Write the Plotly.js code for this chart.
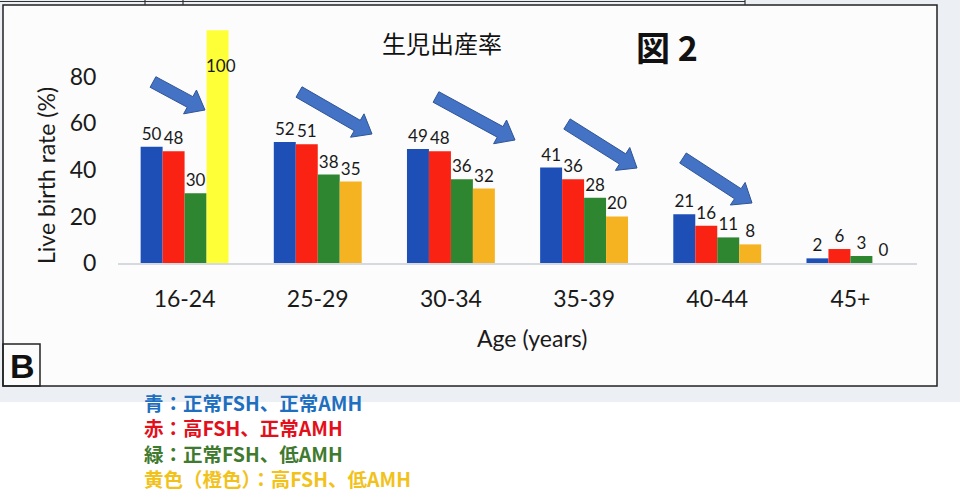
<!DOCTYPE html>
<html>
<head>
<meta charset="utf-8">
<script src="https://cdn.plot.ly/plotly-3.0.1.min.js"></script>
<style>
  html, body { margin: 0; padding: 0; background: #fff; }
  #chart { width: 960px; height: 500px; }
</style>
</head>
<body>
<div id="chart"></div>
<script>
// chart values
const ageGroups = ['16-24', '25-29', '30-34', '35-39', '40-44', '45+'];
const normFshNormAmh = [50, 52, 49, 41, 21, 2];   // blue
const highFshNormAmh = [48, 51, 48, 36, 16, 6];   // red
const normFshLowAmh  = [30, 38, 36, 28, 11, 3];   // green
const highFshLowAmh  = [100, 35, 32, 20, 8, 0];   // yellow / orange

const legendLines = [
  '青：正常FSH、正常AMH',
  '赤：高FSH、正常AMH',
  '緑：正常FSH、低AMH',
  '黄色（橙色）：高FSH、低AMH'
];
const legendColors = ['#1f6fc0', '#e3101c', '#3f7a2f', '#f2c21c'];

// plot box in page pixels
const L = 118, R = 917, T = 7, B = 263;
const px = (x) => (x - L) / (R - L);
const py = (y) => (B - y) / (B - T);

const numFont = { family: 'Lato, "Noto Sans", sans-serif', size: 17, color: '#1a1a1a' };

function barTrace(vals, color, name) {
  return {
    type: 'bar',
    x: ageGroups,
    y: vals,
    name: name,
    marker: { color: color },
    text: vals.map(String),
    textposition: 'outside',
    textfont: numFont,
    cliponaxis: false,
    hoverinfo: 'x+y'
  };
}

const tBlue = barTrace(normFshNormAmh, '#1d4fb7', 'blue');
const tRed = barTrace(highFshNormAmh, '#fa2212', 'red');
const tGreen = barTrace(normFshLowAmh, '#2f8630', 'green');
const tOrange = barTrace(highFshLowAmh,
  highFshLowAmh.map((v, i) => i === 0 ? '#ffff38' : '#f6b321'), 'orange');
// the 100 label sits lower, over the tall yellow bar
tOrange.textposition = highFshLowAmh.map((v, i) => i === 0 ? 'none' : 'outside');

// thick blue arrows between groups (tail, tip in page pixels)
const arrows = [
  [[153, 82], [205, 110]],
  [[299, 92], [372, 134]],
  [[436, 97], [515, 140]],
  [[567, 124], [637, 168]],
  [[683, 158], [752, 203]]
];
function arrowPath(a) {
  const [x0, y0] = a[0], [x1, y1] = a[1];
  const dx = x1 - x0, dy = y1 - y0, len = Math.hypot(dx, dy);
  const ux = dx / len, uy = dy / len, nx = -uy, ny = ux;
  const sw = 6, hw = 13.5, hl = 17;
  const bx = x1 - ux * hl, by = y1 - uy * hl;
  const pts = [
    [x0 + nx * sw, y0 + ny * sw],
    [bx + nx * sw, by + ny * sw],
    [bx + nx * hw, by + ny * hw],
    [x1, y1],
    [bx - nx * hw, by - ny * hw],
    [bx - nx * sw, by - ny * sw],
    [x0 - nx * sw, y0 - ny * sw]
  ];
  return 'M' + pts.map(p => px(p[0]).toFixed(4) + ',' + py(p[1]).toFixed(4)).join(' L') + ' Z';
}

const shapes = [
  // grey page behind the scanned panel
  { type: 'rect', xref: 'paper', yref: 'paper', x0: px(0), x1: px(960), y0: py(0), y1: py(402),
    fillcolor: '#eceff4', line: { width: 0 }, layer: 'below' },
  { type: 'rect', xref: 'paper', yref: 'paper', x0: px(0), x1: px(960), y0: py(402), y1: py(500),
    fillcolor: '#ffffff', line: { width: 0 }, layer: 'below' },
  // panel box
  { type: 'rect', xref: 'paper', yref: 'paper', x0: px(3), x1: px(937), y0: py(5), y1: py(386),
    fillcolor: '#fcfcfc', line: { color: '#222', width: 1.5 }, layer: 'below' },
  // remnants of the table above
  { type: 'line', xref: 'paper', yref: 'paper', x0: px(0), x1: px(745), y0: py(1.5), y1: py(1.5),
    line: { color: '#333', width: 1.2 } },
  { type: 'line', xref: 'paper', yref: 'paper', x0: px(145), x1: px(145), y0: py(0), y1: py(5),
    line: { color: '#333', width: 1.2 } },
  { type: 'line', xref: 'paper', yref: 'paper', x0: px(183), x1: px(183), y0: py(0), y1: py(5),
    line: { color: '#333', width: 1.2 } },
  { type: 'line', xref: 'paper', yref: 'paper', x0: px(745), x1: px(745), y0: py(0), y1: py(5),
    line: { color: '#333', width: 1.2 } },
  // B label box
  { type: 'rect', xref: 'paper', yref: 'paper', x0: px(3), x1: px(40), y0: py(344), y1: py(386),
    fillcolor: 'rgba(0,0,0,0)', line: { color: '#222', width: 1.5 } }
];
arrows.forEach(a => shapes.push({
  type: 'path', xref: 'paper', yref: 'paper', path: arrowPath(a),
  fillcolor: '#4472c4', line: { color: '#2f5597', width: 1 }
}));

function note(x, y, text, font, extra) {
  return Object.assign({
    xref: 'paper', yref: 'paper', x: px(x), y: py(y), text: text, showarrow: false,
    xanchor: 'center', yanchor: 'middle', font: font
  }, extra || {});
}

// colour key below the panel, one block of four coloured lines
const legendText = legendLines
  .map((t, i) => '<span style="color:' + legendColors[i] + '"><b>' + t + '</b></span>')
  .join('<br>');

const annotations = [
  note(442, 42, '生児出産率', { family: '"Noto Sans CJK JP", sans-serif', size: 24, color: '#111' }),
  note(667, 46, '<b>図 2</b>', { family: '"Noto Sans CJK JP", sans-serif', size: 34, color: '#111' }),
  note(22, 366, '<b>B</b>', { family: '"Liberation Sans", Arial, sans-serif', size: 34, color: '#111' }),
  note(532, 338, 'Age (years)', { family: 'Lato, "Noto Sans", sans-serif', size: 23, color: '#1a1a1a' }),
  note(46, 176, 'Live birth rate (%)', { family: 'Lato, "Noto Sans", sans-serif', size: 23, color: '#1a1a1a' },
    { textangle: -90 }),
  { xref: 'x', yref: 'y', x: ageGroups[0], xshift: 36, y: 85, text: String(highFshLowAmh[0]),
    showarrow: false, font: numFont },
  note(142, 440, legendText, { family: '"Noto Sans CJK JP", sans-serif', size: 19.5, color: '#333' },
    { xanchor: 'left', align: 'left' })
];

const layout = {
  width: 960,
  height: 500,
  margin: { l: L, r: 960 - R, t: T, b: 500 - B, pad: 0 },
  paper_bgcolor: 'rgba(0,0,0,0)',
  plot_bgcolor: 'rgba(0,0,0,0)',
  barmode: 'group',
  bargap: 0.34,
  bargroupgap: 0,
  showlegend: false,
  font: { family: 'Lato, "Noto Sans", sans-serif', color: '#1a1a1a' },
  xaxis: {
    type: 'category',
    showgrid: false,
    showline: true,
    linecolor: '#d6d9de',
    linewidth: 1.5,
    ticks: 'outside',
    ticklen: 15,
    tickcolor: 'rgba(0,0,0,0)',
    tickfont: { size: 23 }
  },
  yaxis: {
    range: [0, 110],
    tickvals: [0, 20, 40, 60, 80],
    showgrid: false,
    zeroline: false,
    showline: false,
    ticks: 'outside',
    ticklen: 16,
    tickcolor: 'rgba(0,0,0,0)',
    tickfont: { size: 23 }
  },
  shapes: shapes,
  annotations: annotations
};

Plotly.newPlot('chart', [tBlue, tRed, tGreen, tOrange], layout, { displayModeBar: false, staticPlot: true });
</script>
</body>
</html>
